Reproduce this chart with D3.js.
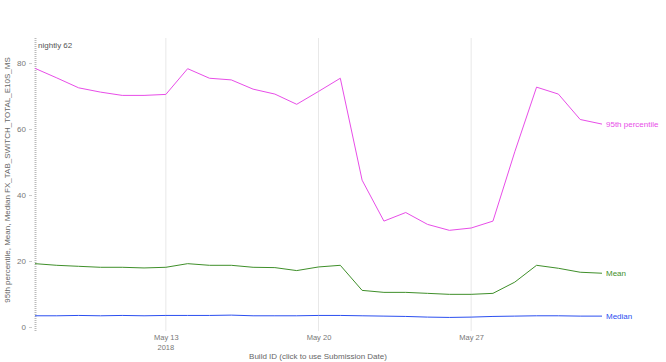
<!DOCTYPE html>
<html>
<head>
<meta charset="utf-8">
<script src="https://cdn.jsdelivr.net/npm/d3@7"></script>
<style>
  body { margin: 0; background: #fff; }
  text { font-family: "Liberation Sans", Arial, sans-serif; }
</style>
</head>
<body>
<div id="chart"></div>
<script>
// one build per day, May 7 .. June 2 2018
const dates = d3.timeDay.range(new Date(2018, 4, 7), new Date(2018, 5, 3));
const p95 = [78.4, 75.5, 72.5, 71.2, 70.2, 70.2, 70.5, 78.3, 75.4, 74.9, 72.1, 70.6, 67.5, 71.4,
             75.4, 44.5, 32.1, 34.7, 31.1, 29.3, 30.0, 32.1, 53.1, 72.7, 70.6, 62.9, 61.5];
const mean = [19.2, 18.7, 18.4, 18.1, 18.1, 17.9, 18.1, 19.2, 18.7, 18.7, 18.1, 18.0, 17.1, 18.2,
              18.7, 11.1, 10.5, 10.5, 10.2, 9.9, 9.9, 10.2, 13.6, 18.7, 17.8, 16.6, 16.3];
const median = [3.4, 3.4, 3.5, 3.4, 3.5, 3.4, 3.5, 3.5, 3.5, 3.6, 3.4, 3.4, 3.4, 3.5,
                3.5, 3.4, 3.3, 3.2, 3.0, 2.9, 3.0, 3.2, 3.3, 3.4, 3.4, 3.3, 3.3];
const seriesNames = ["95th percentile", "Mean", "Median"];
const seriesColors = ["#e84de8", "#3f8f2a", "#2b4ff0"];
const yTicks = [0, 20, 40, 60, 80];
const xTicks = [new Date(2018, 4, 13), new Date(2018, 4, 20), new Date(2018, 4, 27)];

const W = 666, H = 362;
const svg = d3.select("#chart").append("svg").attr("width", W).attr("height", H);

const x = d3.scaleTime().domain([dates[0], dates[dates.length - 1]]).range([35, 602]);
const y = d3.scaleLinear().domain([0, 87.6]).range([327, 38]);

// vertical grid at ticks
svg.append("g").selectAll("line").data(xTicks).join("line")
  .attr("x1", d => x(d)).attr("x2", d => x(d))
  .attr("y1", 38).attr("y2", 331)
  .attr("stroke", "#e8e8e8").attr("stroke-width", 1);

// y axis
const yAxis = svg.append("g").attr("transform", "translate(32,0)")
  .call(d3.axisLeft(y).tickValues(yTicks).tickSize(3).tickPadding(3));
yAxis.select(".domain").remove();
yAxis.selectAll("line").attr("stroke", "#ccc");
yAxis.selectAll("text").attr("fill", "#777").style("font-size", "8px");

svg.append("line")
  .attr("x1", 35.5).attr("x2", 35.5).attr("y1", 38).attr("y2", 331)
  .attr("stroke", "#bbb").attr("stroke-width", 2).attr("stroke-dasharray", "1,1");

// x axis labels
const xAxis = svg.append("g").attr("transform", "translate(0,334)")
  .call(d3.axisBottom(x).tickValues(xTicks).tickSize(0).tickPadding(1)
    .tickFormat(d3.timeFormat("%b %d")));
xAxis.select(".domain").remove();
xAxis.selectAll("text").attr("fill", "#777").style("font-size", "7.5px");
svg.append("text").attr("x", x(xTicks[0])).attr("y", 350)
  .attr("text-anchor", "middle").attr("fill", "#777").style("font-size", "7.5px").text("2018");

svg.append("text").attr("x", 318).attr("y", 359)
  .attr("text-anchor", "middle").attr("fill", "#666").style("font-size", "8px")
  .text("Build ID (click to use Submission Date)");

svg.append("text").attr("transform", "translate(10,180) rotate(-90)")
  .attr("text-anchor", "middle").attr("fill", "#666").style("font-size", "8px")
  .text("95th percentile, Mean, Median FX_TAB_SWITCH_TOTAL_E10S_MS");

svg.append("text").attr("x", 38).attr("y", 48)
  .attr("fill", "#555").style("font-size", "8px").text("nightly 62");

// lines
const all = [p95, mean, median];
const line = d3.line().x((d, i) => x(dates[i])).y(d => y(d));
all.forEach((vals, k) => {
  svg.append("path").datum(vals)
    .attr("fill", "none").attr("stroke", seriesColors[k]).attr("stroke-width", 1)
    .attr("d", line);
  svg.append("text")
    .attr("x", x(dates[dates.length - 1]) + 4)
    .attr("y", y(vals[vals.length - 1]) + 3)
    .attr("fill", seriesColors[k]).style("font-size", "8px")
    .text(seriesNames[k]);
});
</script>
</body>
</html>
